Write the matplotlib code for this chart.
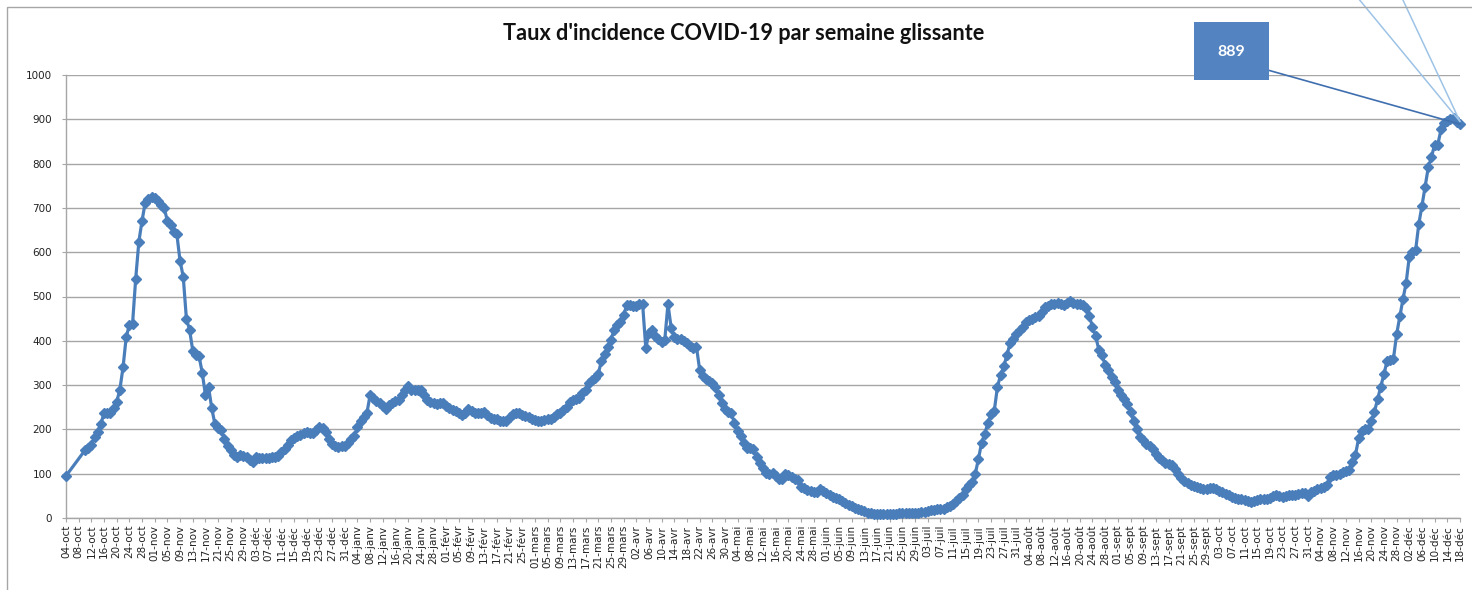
import numpy as np
import pandas as pd
import matplotlib
matplotlib.use("Agg")
import matplotlib.pyplot as plt
from matplotlib.patches import Rectangle

nan = np.nan

# Taux d'incidence (pour 100 000 hab., semaine glissante)
oct_2020 = [95, nan, nan, nan, nan, nan, 153, 158, 165, 182, 195, 212, 237, 238, 237,
            248, 262, 290, 340, 408, 436, 438, 540, 624, 671, 712, 719, 725]
nov_2020 = [723, 716, 706, 699, 671, 662, 645, 640, 580, 545, 450, 425, 378, 368, 365,
            328, 278, 295, 248, 212, 203, 198, 178, 162, 153, 143, 138, 142, 140, 137]
dec_2020 = [130, 127, 137, 136, 135, 135, 136, 138, 138, 140, 150, 155, 165, 175, 180,
            185, 188, 192, 195, 193, 193, 198, 205, 203, 195, 178, 167, 162, 160, 162, 163]
jan_2021 = [170, 178, 184, 205, 218, 228, 238, 278, 270, 264, 259, 252, 246, 255, 260,
            264, 267, 277, 290, 298, 290, 289, 290, 289, 278, 266, 262, 260, 258, 260, 259]
feb_2021 = [252, 248, 244, 242, 238, 232, 236, 245, 242, 237, 236, 238, 240, 232, 226,
            224, 223, 220, 218, 220, 228, 235, 237, 236, 232, 230, 228, 224]
mar_2021 = [221, 219, 220, 222, 224, 223, 228, 234, 238, 243, 250, 262, 267, 268, 270,
            282, 290, 305, 312, 315, 325, 355, 370, 385, 402, 425, 436, 442, 458, 481, 480]
apr_2021 = [478, 478, 482, 483, 384, 417, 424, 410, 403, 398, 402, 483, 430, 408, 403,
            405, 400, 396, 388, 383, 386, 335, 320, 314, 310, 305, 295, 278, 260, 246]
may_2021 = [240, 236, 215, 196, 185, 170, 157, 157, 155, 138, 125, 112, 101, 100, 102,
            95, 87, 88, 100, 98, 92, 88, 86, 71, 68, 64, 61, 59, 58, 65, 62]
jun_2021 = [56, 52, 48, 46, 44, 38, 34, 30, 26, 23, 20, 18, 15, 12, 11,
            10, 10, 10, 10, 10, 10, 10, 10, 11, 11, 11, 11, 12, 12, 12]
jul_2021 = [13, 14, 16, 18, 19, 20, 20, 21, 24, 27, 32, 38, 45, 52, 65,
            75, 82, 100, 133, 170, 190, 215, 235, 242, 296, 323, 342, 368, 395, 405, 415]
aug_2021 = [425, 432, 442, 447, 450, 453, 456, 465, 477, 478, 483, 484, 486, 484, 481,
            485, 490, 485, 483, 483, 480, 474, 455, 432, 410, 380, 368, 345, 335, 318, 308]
sep_2021 = [290, 278, 268, 258, 240, 218, 200, 183, 175, 168, 162, 155, 145, 135, 130,
            125, 123, 120, 110, 100, 90, 84, 78, 74, 72, 70, 67, 66, 66, 67]
oct_2021 = [67, 66, 62, 58, 55, 51, 48, 46, 43, 42, 40, 38, 37, 38, 41,
            42, 42, 44, 46, 50, 52, 50, 48, 49, 51, 52, 53, 55, 57, 56, 50]
nov_2021 = [58, 62, 65, 67, 70, 74, 92, 96, 97, 100, 104, 105, 108, 127, 142,
            180, 196, 200, 202, 218, 240, 268, 296, 325, 355, 357, 360, 415, 455, 494]
dec_2021 = [531, 590, 600, 605, 664, 705, 748, 792, 815, 843, 843, 877, 892, 896, 900,
            902, 895, 889]

month_starts = ["2020-10-04", "2020-11-01", "2020-12-01", "2021-01-01", "2021-02-01",
                "2021-03-01", "2021-04-01", "2021-05-01", "2021-06-01", "2021-07-01",
                "2021-08-01", "2021-09-01", "2021-10-01", "2021-11-01", "2021-12-01"]
month_values = [oct_2020, nov_2020, dec_2020, jan_2021, feb_2021, mar_2021, apr_2021,
                may_2021, jun_2021, jul_2021, aug_2021, sep_2021, oct_2021, nov_2021,
                dec_2021]

mois = ["janv", "févr", "mars", "avr", "mai", "juin", "juil", "août", "sept", "oct",
        "nov", "déc"]
title = "Taux d'incidence COVID-19 par semaine glissante"
label_value = "889"

parts = [pd.Series(v, index=pd.date_range(s, periods=len(v), freq="D"))
         for s, v in zip(month_starts, month_values)]
serie = pd.concat(parts).dropna()

tick_dates = pd.date_range("2020-10-04", "2021-12-18", freq="4D")
tick_labels = [f"{d.day:02d}-{mois[d.month - 1]}" for d in tick_dates]

W, H = 1472, 590
fig = plt.figure(figsize=(W / 100, H / 100), dpi=100)
fig.patch.set_facecolor("white")

# outer chart frame
fig.patches.append(Rectangle((7 / W, -0.2), 1.2, 1.2 - 7 / H, transform=fig.transFigure,
                             fill=False, edgecolor="#a6a6a6", lw=1.0))

ax = fig.add_axes([66 / W, 72 / H, (1460 - 66) / W, 443 / H])
line_col = "#4a7ebb"
grid_col = "#a6a6a6"

ax.plot(serie.index, serie.values, color=line_col, lw=2.3, marker="D", markersize=4.8,
        markeredgecolor=line_col, markerfacecolor=line_col, clip_on=False, zorder=3)

ax.set_ylim(0, 1000)
ax.set_yticks(np.arange(0, 1001, 100))
ax.set_xlim(tick_dates[0], tick_dates[-1])
ax.set_xticks(tick_dates)
ax.set_xticklabels(tick_labels, rotation=90, fontsize=7.5, color="#222222")
ax.tick_params(axis="y", labelsize=7.5, labelcolor="#222222", length=3, pad=7,
               color=grid_col)
ax.tick_params(axis="x", length=3, pad=2, color=grid_col)
ax.grid(axis="y", color=grid_col, lw=1.0)
ax.set_axisbelow(True)
for s in ["top", "right"]:
    ax.spines[s].set_visible(False)
for s in ["left", "bottom"]:
    ax.spines[s].set_color(grid_col)
    ax.spines[s].set_linewidth(1.0)

fig.text(744 / W, 1 - 33 / H, title, ha="center", va="center", fontsize=15.6,
         fontweight="bold", family=["Lato", "DejaVu Sans"], color="#111111")

# data label box
last_x, last_y = serie.index[-1], serie.values[-1]
fig.patches.append(Rectangle((1194 / W, 1 - 80 / H), 75 / W, 58 / H,
                             transform=fig.transFigure, facecolor="#5383c0",
                             edgecolor="none", zorder=5))
fig.text(1231 / W, 1 - 52 / H, label_value, ha="center", va="center", fontsize=11.5,
         fontweight="bold", color="white", family=["Lato", "DejaVu Sans"], zorder=6)
ax.annotate("", xy=(last_x, last_y), xycoords="data", xytext=(1257, H - 67),
            textcoords="figure pixels",
            arrowprops=dict(arrowstyle="-", color="#3f6fae", lw=1.2, shrinkA=0, shrinkB=0),
            annotation_clip=False, zorder=7)
for px in (1358, 1402):
    ax.annotate("", xy=(last_x, last_y + 6), xycoords="data", xytext=(px, H + 2),
                textcoords="figure pixels",
                arrowprops=dict(arrowstyle="-", color="#9dc3e6", lw=1.1, shrinkA=0,
                                shrinkB=0),
                annotation_clip=False, zorder=7)

fig.savefig("out.png", dpi=100)
